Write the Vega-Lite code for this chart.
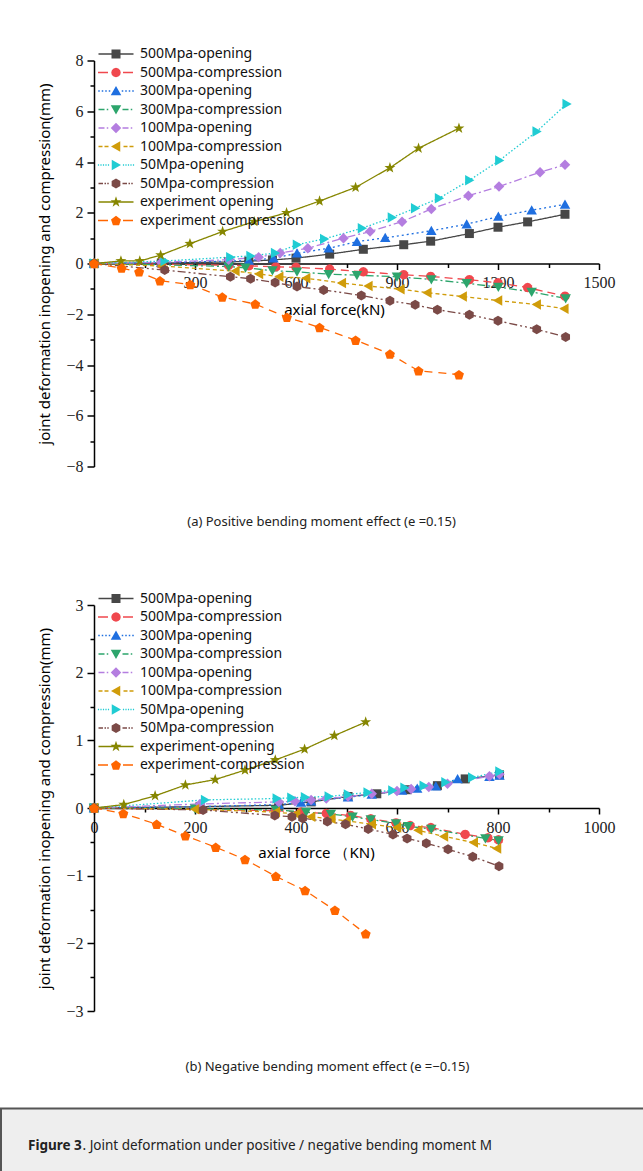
{
"$schema": "https://vega.github.io/schema/vega-lite/v6.json",
"padding": {"left": 0, "top": 46.5, "right": 0, "bottom": 0},
"background": "white",
"config": {"view": {"stroke": null}, "font": "Noto Sans"},
"datasets": {
"a": [
{"s":"500Mpa-opening","x":0,"y":0},{"s":"500Mpa-opening","x":200,"y":0.02},{"s":"500Mpa-opening","x":400,"y":0.06},{"s":"500Mpa-opening","x":460,"y":0.09},{"s":"500Mpa-opening","x":530,"y":0.14},{"s":"500Mpa-opening","x":600,"y":0.21},{"s":"500Mpa-opening","x":700,"y":0.37},{"s":"500Mpa-opening","x":800,"y":0.56},{"s":"500Mpa-opening","x":920,"y":0.74},{"s":"500Mpa-opening","x":1000,"y":0.88},{"s":"500Mpa-opening","x":1115,"y":1.18},{"s":"500Mpa-opening","x":1200,"y":1.43},{"s":"500Mpa-opening","x":1288,"y":1.64},{"s":"500Mpa-opening","x":1399,"y":1.94},
{"s":"500Mpa-compression","x":0,"y":0},{"s":"500Mpa-compression","x":200,"y":-0.03},{"s":"500Mpa-compression","x":400,"y":-0.07},{"s":"500Mpa-compression","x":460,"y":-0.09},{"s":"500Mpa-compression","x":540,"y":-0.13},{"s":"500Mpa-compression","x":600,"y":-0.15},{"s":"500Mpa-compression","x":700,"y":-0.22},{"s":"500Mpa-compression","x":800,"y":-0.33},{"s":"500Mpa-compression","x":920,"y":-0.44},{"s":"500Mpa-compression","x":1000,"y":-0.51},{"s":"500Mpa-compression","x":1115,"y":-0.64},{"s":"500Mpa-compression","x":1200,"y":-0.76},{"s":"500Mpa-compression","x":1288,"y":-0.95},{"s":"500Mpa-compression","x":1399,"y":-1.29},
{"s":"300Mpa-opening","x":0,"y":0},{"s":"300Mpa-opening","x":200,"y":0.03},{"s":"300Mpa-opening","x":400,"y":0.09},{"s":"300Mpa-opening","x":460,"y":0.12},{"s":"300Mpa-opening","x":533,"y":0.21},{"s":"300Mpa-opening","x":603,"y":0.40},{"s":"300Mpa-opening","x":697,"y":0.60},{"s":"300Mpa-opening","x":781,"y":0.86},{"s":"300Mpa-opening","x":865,"y":1.01},{"s":"300Mpa-opening","x":1002,"y":1.29},{"s":"300Mpa-opening","x":1107,"y":1.55},{"s":"300Mpa-opening","x":1201,"y":1.85},{"s":"300Mpa-opening","x":1300,"y":2.10},{"s":"300Mpa-opening","x":1399,"y":2.33},
{"s":"300Mpa-compression","x":0,"y":0},{"s":"300Mpa-compression","x":200,"y":-0.05},{"s":"300Mpa-compression","x":400,"y":-0.12},{"s":"300Mpa-compression","x":450,"y":-0.17},{"s":"300Mpa-compression","x":530,"y":-0.28},{"s":"300Mpa-compression","x":603,"y":-0.33},{"s":"300Mpa-compression","x":697,"y":-0.42},{"s":"300Mpa-compression","x":781,"y":-0.46},{"s":"300Mpa-compression","x":900,"y":-0.52},{"s":"300Mpa-compression","x":1002,"y":-0.63},{"s":"300Mpa-compression","x":1107,"y":-0.78},{"s":"300Mpa-compression","x":1201,"y":-0.93},{"s":"300Mpa-compression","x":1300,"y":-1.12},{"s":"300Mpa-compression","x":1401,"y":-1.38},
{"s":"100Mpa-opening","x":0,"y":0},{"s":"100Mpa-opening","x":200,"y":0.05},{"s":"100Mpa-opening","x":400,"y":0.15},{"s":"100Mpa-opening","x":489,"y":0.25},{"s":"100Mpa-opening","x":553,"y":0.41},{"s":"100Mpa-opening","x":635,"y":0.60},{"s":"100Mpa-opening","x":741,"y":1.00},{"s":"100Mpa-opening","x":820,"y":1.26},{"s":"100Mpa-opening","x":915,"y":1.65},{"s":"100Mpa-opening","x":1002,"y":2.15},{"s":"100Mpa-opening","x":1112,"y":2.67},{"s":"100Mpa-opening","x":1203,"y":3.03},{"s":"100Mpa-opening","x":1325,"y":3.60},{"s":"100Mpa-opening","x":1399,"y":3.89},
{"s":"100Mpa-compression","x":0,"y":0},{"s":"100Mpa-compression","x":200,"y":-0.10},{"s":"100Mpa-compression","x":420,"y":-0.30},{"s":"100Mpa-compression","x":490,"y":-0.41},{"s":"100Mpa-compression","x":550,"y":-0.52},{"s":"100Mpa-compression","x":630,"y":-0.58},{"s":"100Mpa-compression","x":736,"y":-0.77},{"s":"100Mpa-compression","x":815,"y":-0.89},{"s":"100Mpa-compression","x":910,"y":-1.01},{"s":"100Mpa-compression","x":990,"y":-1.15},{"s":"100Mpa-compression","x":1095,"y":-1.30},{"s":"100Mpa-compression","x":1200,"y":-1.46},{"s":"100Mpa-compression","x":1315,"y":-1.62},{"s":"100Mpa-compression","x":1397,"y":-1.78},
{"s":"50Mpa-opening","x":0,"y":0},{"s":"50Mpa-opening","x":210,"y":0.10},{"s":"50Mpa-opening","x":405,"y":0.25},{"s":"50Mpa-opening","x":465,"y":0.30},{"s":"50Mpa-opening","x":538,"y":0.41},{"s":"50Mpa-opening","x":603,"y":0.74},{"s":"50Mpa-opening","x":684,"y":0.97},{"s":"50Mpa-opening","x":796,"y":1.39},{"s":"50Mpa-opening","x":885,"y":1.81},{"s":"50Mpa-opening","x":954,"y":2.18},{"s":"50Mpa-opening","x":1025,"y":2.57},{"s":"50Mpa-opening","x":1115,"y":3.28},{"s":"50Mpa-opening","x":1204,"y":4.06},{"s":"50Mpa-opening","x":1315,"y":5.20},{"s":"50Mpa-opening","x":1404,"y":6.29},
{"s":"50Mpa-compression","x":0,"y":0},{"s":"50Mpa-compression","x":210,"y":-0.26},{"s":"50Mpa-compression","x":405,"y":-0.52},{"s":"50Mpa-compression","x":465,"y":-0.60},{"s":"50Mpa-compression","x":538,"y":-0.75},{"s":"50Mpa-compression","x":603,"y":-0.91},{"s":"50Mpa-compression","x":682,"y":-1.04},{"s":"50Mpa-compression","x":794,"y":-1.26},{"s":"50Mpa-compression","x":879,"y":-1.47},{"s":"50Mpa-compression","x":954,"y":-1.63},{"s":"50Mpa-compression","x":1020,"y":-1.82},{"s":"50Mpa-compression","x":1115,"y":-2.02},{"s":"50Mpa-compression","x":1200,"y":-2.26},{"s":"50Mpa-compression","x":1315,"y":-2.59},{"s":"50Mpa-compression","x":1401,"y":-2.90},
{"s":"experiment opening","x":0,"y":0},{"s":"experiment opening","x":80,"y":0.10},{"s":"experiment opening","x":136,"y":0.10},{"s":"experiment opening","x":198,"y":0.33},{"s":"experiment opening","x":285,"y":0.78},{"s":"experiment opening","x":382,"y":1.26},{"s":"experiment opening","x":476,"y":1.65},{"s":"experiment opening","x":572,"y":2.00},{"s":"experiment opening","x":670,"y":2.46},{"s":"experiment opening","x":777,"y":3.00},{"s":"experiment opening","x":879,"y":3.77},{"s":"experiment opening","x":964,"y":4.54},{"s":"experiment opening","x":1084,"y":5.33},
{"s":"experiment compression","x":0,"y":0},{"s":"experiment compression","x":82,"y":-0.18},{"s":"experiment compression","x":134,"y":-0.33},{"s":"experiment compression","x":196,"y":-0.68},{"s":"experiment compression","x":286,"y":-0.83},{"s":"experiment compression","x":381,"y":-1.32},{"s":"experiment compression","x":479,"y":-1.60},{"s":"experiment compression","x":573,"y":-2.12},{"s":"experiment compression","x":670,"y":-2.52},{"s":"experiment compression","x":777,"y":-3.02},{"s":"experiment compression","x":879,"y":-3.57},{"s":"experiment compression","x":964,"y":-4.23},{"s":"experiment compression","x":1084,"y":-4.38}
],
"b": [
{"s":"500Mpa-opening","x":0,"y":0},{"s":"500Mpa-opening","x":210,"y":0.02},{"s":"500Mpa-opening","x":366,"y":0.04},{"s":"500Mpa-opening","x":430,"y":0.09},{"s":"500Mpa-opening","x":503,"y":0.17},{"s":"500Mpa-opening","x":560,"y":0.21},{"s":"500Mpa-opening","x":620,"y":0.27},{"s":"500Mpa-opening","x":680,"y":0.33},{"s":"500Mpa-opening","x":735,"y":0.43},{"s":"500Mpa-opening","x":803,"y":0.49},
{"s":"500Mpa-compression","x":0,"y":0},{"s":"500Mpa-compression","x":210,"y":-0.02},{"s":"500Mpa-compression","x":360,"y":-0.04},{"s":"500Mpa-compression","x":410,"y":-0.06},{"s":"500Mpa-compression","x":460,"y":-0.08},{"s":"500Mpa-compression","x":508,"y":-0.11},{"s":"500Mpa-compression","x":548,"y":-0.16},{"s":"500Mpa-compression","x":598,"y":-0.22},{"s":"500Mpa-compression","x":626,"y":-0.26},{"s":"500Mpa-compression","x":667,"y":-0.29},{"s":"500Mpa-compression","x":735,"y":-0.39},{"s":"500Mpa-compression","x":780,"y":-0.44},{"s":"500Mpa-compression","x":801,"y":-0.47},
{"s":"300Mpa-opening","x":0,"y":0},{"s":"300Mpa-opening","x":210,"y":0.02},{"s":"300Mpa-opening","x":366,"y":0.05},{"s":"300Mpa-opening","x":410,"y":0.08},{"s":"300Mpa-opening","x":430,"y":0.10},{"s":"300Mpa-opening","x":503,"y":0.16},{"s":"300Mpa-opening","x":550,"y":0.20},{"s":"300Mpa-opening","x":610,"y":0.26},{"s":"300Mpa-opening","x":640,"y":0.29},{"s":"300Mpa-opening","x":677,"y":0.32},{"s":"300Mpa-opening","x":720,"y":0.43},{"s":"300Mpa-opening","x":783,"y":0.46},{"s":"300Mpa-opening","x":803,"y":0.48},
{"s":"300Mpa-compression","x":0,"y":0},{"s":"300Mpa-compression","x":200,"y":-0.01},{"s":"300Mpa-compression","x":360,"y":-0.03},{"s":"300Mpa-compression","x":420,"y":-0.06},{"s":"300Mpa-compression","x":469,"y":-0.09},{"s":"300Mpa-compression","x":512,"y":-0.13},{"s":"300Mpa-compression","x":548,"y":-0.17},{"s":"300Mpa-compression","x":598,"y":-0.23},{"s":"300Mpa-compression","x":622,"y":-0.27},{"s":"300Mpa-compression","x":668,"y":-0.31},{"s":"300Mpa-compression","x":775,"y":-0.45},{"s":"300Mpa-compression","x":801,"y":-0.48},
{"s":"100Mpa-opening","x":0,"y":0},{"s":"100Mpa-opening","x":210,"y":0.06},{"s":"100Mpa-opening","x":366,"y":0.09},{"s":"100Mpa-opening","x":398,"y":0.10},{"s":"100Mpa-opening","x":430,"y":0.12},{"s":"100Mpa-opening","x":460,"y":0.14},{"s":"100Mpa-opening","x":503,"y":0.17},{"s":"100Mpa-opening","x":550,"y":0.21},{"s":"100Mpa-opening","x":600,"y":0.25},{"s":"100Mpa-opening","x":628,"y":0.28},{"s":"100Mpa-opening","x":663,"y":0.31},{"s":"100Mpa-opening","x":700,"y":0.36},{"s":"100Mpa-opening","x":783,"y":0.47},{"s":"100Mpa-opening","x":803,"y":0.50},
{"s":"100Mpa-compression","x":0,"y":0},{"s":"100Mpa-compression","x":200,"y":-0.02},{"s":"100Mpa-compression","x":360,"y":-0.06},{"s":"100Mpa-compression","x":400,"y":-0.09},{"s":"100Mpa-compression","x":430,"y":-0.13},{"s":"100Mpa-compression","x":470,"y":-0.16},{"s":"100Mpa-compression","x":500,"y":-0.19},{"s":"100Mpa-compression","x":550,"y":-0.24},{"s":"100Mpa-compression","x":600,"y":-0.29},{"s":"100Mpa-compression","x":642,"y":-0.33},{"s":"100Mpa-compression","x":693,"y":-0.42},{"s":"100Mpa-compression","x":752,"y":-0.51},{"s":"100Mpa-compression","x":798,"y":-0.60},
{"s":"50Mpa-opening","x":0,"y":0},{"s":"50Mpa-opening","x":220,"y":0.12},{"s":"50Mpa-opening","x":362,"y":0.14},{"s":"50Mpa-opening","x":391,"y":0.15},{"s":"50Mpa-opening","x":418,"y":0.16},{"s":"50Mpa-opening","x":465,"y":0.17},{"s":"50Mpa-opening","x":503,"y":0.20},{"s":"50Mpa-opening","x":542,"y":0.23},{"s":"50Mpa-opening","x":591,"y":0.26},{"s":"50Mpa-opening","x":615,"y":0.30},{"s":"50Mpa-opening","x":653,"y":0.33},{"s":"50Mpa-opening","x":696,"y":0.38},{"s":"50Mpa-opening","x":749,"y":0.45},{"s":"50Mpa-opening","x":803,"y":0.54},
{"s":"50Mpa-compression","x":0,"y":0},{"s":"50Mpa-compression","x":216,"y":-0.03},{"s":"50Mpa-compression","x":358,"y":-0.11},{"s":"50Mpa-compression","x":392,"y":-0.13},{"s":"50Mpa-compression","x":413,"y":-0.15},{"s":"50Mpa-compression","x":462,"y":-0.20},{"s":"50Mpa-compression","x":498,"y":-0.24},{"s":"50Mpa-compression","x":543,"y":-0.31},{"s":"50Mpa-compression","x":592,"y":-0.39},{"s":"50Mpa-compression","x":620,"y":-0.45},{"s":"50Mpa-compression","x":658,"y":-0.52},{"s":"50Mpa-compression","x":701,"y":-0.61},{"s":"50Mpa-compression","x":750,"y":-0.72},{"s":"50Mpa-compression","x":802,"y":-0.86},
{"s":"experiment-opening","x":0,"y":0},{"s":"experiment-opening","x":59,"y":0.05},{"s":"experiment-opening","x":121,"y":0.18},{"s":"experiment-opening","x":181,"y":0.34},{"s":"experiment-opening","x":240,"y":0.42},{"s":"experiment-opening","x":299,"y":0.56},{"s":"experiment-opening","x":359,"y":0.71},{"s":"experiment-opening","x":417,"y":0.87},{"s":"experiment-opening","x":476,"y":1.07},{"s":"experiment-opening","x":538,"y":1.27},
{"s":"experiment-compression","x":0,"y":0},{"s":"experiment-compression","x":58,"y":-0.08},{"s":"experiment-compression","x":124,"y":-0.24},{"s":"experiment-compression","x":181,"y":-0.41},{"s":"experiment-compression","x":241,"y":-0.58},{"s":"experiment-compression","x":299,"y":-0.76},{"s":"experiment-compression","x":360,"y":-1.01},{"s":"experiment-compression","x":418,"y":-1.22},{"s":"experiment-compression","x":477,"y":-1.51},{"s":"experiment-compression","x":538,"y":-1.86}
]
},
"center": true,
"spacing": 33,
"vconcat": [
{
"spacing": 62.5,
"vconcat": [
{
"width": 505, "height": 406,
"data": {"name": "a"},
"title": {"text": "(a) Positive bending moment effect (e =0.15)", "orient": "bottom", "anchor": "middle", "offset": 41, "dx": -25, "font": "Noto Sans", "fontSize": 13, "fontWeight": "normal", "color": "#222222"},
"layer": [
{"mark": {"type": "line", "strokeWidth": 1.3},
 "encoding": {
  "x": {"field": "x", "type": "quantitative", "scale": {"domain": [0, 1500], "nice": false, "zero": false},
        "axis": {"orient": "bottom", "offset": -203, "values": [300, 600, 900, 1200, 1500], "format": "d", "grid": false, "domainColor": "#000000", "domainWidth": 1.5, "tickColor": "#000000", "tickWidth": 1.5, "tickSize": 6, "labelFont": "Liberation Serif", "labelFontSize": 16, "labelColor": "#222222", "labelPadding": 5, "labelFlush": false, "labelOverlap": false, "title": "axial force(kN)", "titleFont": "Noto Sans", "titleFontSize": 15, "titleFontWeight": "normal", "titleColor": "#000000", "titlePadding": 12, "titleX": 240}},
  "y": {"field": "y", "type": "quantitative", "scale": {"domain": [-8, 8], "nice": false},
        "axis": {"orient": "left", "values": [-8, -6, -4, -2, 0, 2, 4, 6, 8], "format": "d", "grid": false, "domainColor": "#000000", "domainWidth": 1.5, "tickColor": "#000000", "tickWidth": 1.5, "tickSize": 7, "labelFont": "Liberation Serif", "labelFontSize": 16, "labelColor": "#222222", "labelPadding": 4, "title": "joint deformation inopening and compression(mm)", "titleFont": "Noto Sans", "titleFontSize": 15, "titleFontWeight": "normal", "titleColor": "#000000", "titlePadding": 13}},
  "color": {"field": "s", "type": "nominal", "legend": null, "scale": {"domain": ["500Mpa-opening","500Mpa-compression","300Mpa-opening","300Mpa-compression","100Mpa-opening","100Mpa-compression","50Mpa-opening","50Mpa-compression","experiment opening","experiment compression"], "range": ["#474747","#f0484e","#1f6fe0","#2da56c","#b47ee0","#d09c0a","#20ccd3","#7b4a47","#868600","#ff6600"]}},
  "strokeDash": {"field": "s", "type": "nominal", "legend": null, "scale": {"domain": ["500Mpa-opening","500Mpa-compression","300Mpa-opening","300Mpa-compression","100Mpa-opening","100Mpa-compression","50Mpa-opening","50Mpa-compression","experiment opening","experiment compression"], "range": [[1,0],[8,5],[2,3],[8,3,2,3],[8,3,2,3],[4,3],[1.5,2],[8,3,2,3,2,3],[1,0],[8,6]]}}
 }},
{"mark": {"type": "point", "filled": true, "size": 100, "opacity": 1},
 "encoding": {
  "x": {"field": "x", "type": "quantitative", "axis": {"orient": "bottom", "offset": -203, "values": [150, 450, 750, 1050, 1350], "grid": false, "domain": false, "labels": false, "tickColor": "#000000", "tickWidth": 1.5, "tickSize": 4, "title": null}},
  "y": {"field": "y", "type": "quantitative", "axis": {"orient": "left", "values": [-7, -5, -3, -1, 1, 3, 5, 7], "grid": false, "domain": false, "labels": false, "tickColor": "#000000", "tickWidth": 1.5, "tickSize": 4, "title": null}},
  "color": {"field": "s", "type": "nominal", "legend": null, "scale": {"domain": ["500Mpa-opening","500Mpa-compression","300Mpa-opening","300Mpa-compression","100Mpa-opening","100Mpa-compression","50Mpa-opening","50Mpa-compression","experiment opening","experiment compression"], "range": ["#474747","#f0484e","#1f6fe0","#2da56c","#b47ee0","#d09c0a","#20ccd3","#7b4a47","#868600","#ff6600"]}},
  "shape": {"field": "s", "type": "nominal", "legend": null, "scale": {"domain": ["500Mpa-opening","500Mpa-compression","300Mpa-opening","300Mpa-compression","100Mpa-opening","100Mpa-compression","50Mpa-opening","50Mpa-compression","experiment opening","experiment compression"], "range": [
   "M-0.9,-0.9H0.9V0.9H-0.9Z",
   "M0.95,0L0.823,0.475L0.475,0.823L0,0.95L-0.475,0.823L-0.823,0.475L-0.95,0L-0.823,-0.475L-0.475,-0.823L0,-0.95L0.475,-0.823L0.823,-0.475Z",
   "M0,-1L1.05,0.85L-1.05,0.85Z",
   "M0,1L1.05,-0.85L-1.05,-0.85Z",
   "M0,-1.05L1.05,0L0,1.05L-1.05,0Z",
   "M-1,0L0.85,-1.05L0.85,1.05Z",
   "M1,0L-0.85,-1.05L-0.85,1.05Z",
   "M0,-1L0.87,-0.5L0.87,0.5L0,1L-0.87,0.5L-0.87,-0.5Z",
   "M0,-1.15L0.27,-0.372L1.094,-0.355L0.437,0.142L0.676,0.93L0,0.46L-0.676,0.93L-0.437,0.142L-1.094,-0.355L-0.27,-0.372Z",
   "M0,-0.95L1,-0.22L0.617,0.95L-0.617,0.95L-1,-0.22Z"]}}
 }},
{"transform": [{"filter": "false"}],
 "mark": {"type": "point", "filled": true, "opacity": 1},
 "encoding": {
  "x": {"field": "x", "type": "quantitative", "axis": null},
  "y": {"field": "y", "type": "quantitative", "axis": null},
  "color": {"field": "s", "type": "nominal", "scale": {"domain": ["500Mpa-opening","500Mpa-compression","300Mpa-opening","300Mpa-compression","100Mpa-opening","100Mpa-compression","50Mpa-opening","50Mpa-compression","experiment opening","experiment compression"], "range": ["#474747","#f0484e","#1f6fe0","#2da56c","#b47ee0","#d09c0a","#20ccd3","#7b4a47","#868600","#ff6600"]},
   "legend": {"orient": "none", "legendX": 15, "legendY": -13.5, "title": null, "padding": 0, "symbolSize": 100, "symbolStrokeWidth": 0, "labelOffset": 17, "labelFont": "Noto Sans", "labelFontSize": 14, "labelColor": "#111111", "labelLimit": 400, "rowPadding": 4.5}},
  "shape": {"field": "s", "type": "nominal", "scale": {"domain": ["500Mpa-opening","500Mpa-compression","300Mpa-opening","300Mpa-compression","100Mpa-opening","100Mpa-compression","50Mpa-opening","50Mpa-compression","experiment opening","experiment compression"], "range": [
   "M-3.5,-0.13H3.5V0.13H-3.5Z M-0.9,-0.9H0.9V0.9H-0.9Z",
   "M-3.6,-0.13H-1.6V0.13H-3.6Z M1.4,-0.13H3.4V0.13H1.4Z M0.95,0L0.823,0.475L0.475,0.823L0,0.95L-0.475,0.823L-0.823,0.475L-0.95,0L-0.823,-0.475L-0.475,-0.823L0,-0.95L0.475,-0.823L0.823,-0.475Z",
   "M-3.55,-0.15H-3.25V0.15H-3.55Z M-2.85,-0.15H-2.55V0.15H-2.85Z M-2.15,-0.15H-1.85V0.15H-2.15Z M-1.45,-0.15H-1.15V0.15H-1.45Z M1.15,-0.15H1.45V0.15H1.15Z M1.85,-0.15H2.15V0.15H1.85Z M2.55,-0.15H2.85V0.15H2.55Z M3.25,-0.15H3.55V0.15H3.25Z M0,-1L1.05,0.85L-1.05,0.85Z",
   "M-3.5,-0.13H-2.3V0.13H-3.5Z M-1.85,-0.15H-1.55V0.15H-1.85Z M1.3,-0.13H2.5V0.13H1.3Z M2.95,-0.15H3.25V0.15H2.95Z M0,1L1.05,-0.85L-1.05,-0.85Z",
   "M-3.5,-0.13H-2.3V0.13H-3.5Z M-1.85,-0.15H-1.55V0.15H-1.85Z M1.3,-0.13H2.5V0.13H1.3Z M2.95,-0.15H3.25V0.15H2.95Z M0,-1.05L1.05,0L0,1.05L-1.05,0Z",
   "M-3.5,-0.13H-2.7V0.13H-3.5Z M-2.3,-0.13H-1.5V0.13H-2.3Z M1.5,-0.13H2.3V0.13H1.5Z M2.7,-0.13H3.5V0.13H2.7Z M-1,0L0.85,-1.05L0.85,1.05Z",
   "M-3.62,-0.13H-3.38V0.13H-3.62Z M-3.12,-0.13H-2.88V0.13H-3.12Z M-2.62,-0.13H-2.38V0.13H-2.62Z M-2.12,-0.13H-1.88V0.13H-2.12Z M-1.62,-0.13H-1.38V0.13H-1.62Z M1.38,-0.13H1.62V0.13H1.38Z M1.88,-0.13H2.12V0.13H1.88Z M2.38,-0.13H2.62V0.13H2.38Z M2.88,-0.13H3.12V0.13H2.88Z M3.38,-0.13H3.62V0.13H3.38Z M1,0L-0.85,-1.05L-0.85,1.05Z",
   "M-3.5,-0.13H-2.6V0.13H-3.5Z M-2.3,-0.15H-2.0V0.15H-2.3Z M-1.75,-0.15H-1.45V0.15H-1.75Z M1.3,-0.13H2.2V0.13H1.3Z M2.5,-0.15H2.8V0.15H2.5Z M3.05,-0.15H3.35V0.15H3.05Z M0,-1L0.87,-0.5L0.87,0.5L0,1L-0.87,0.5L-0.87,-0.5Z",
   "M-3.5,-0.13H3.5V0.13H-3.5Z M0,-1.15L0.27,-0.372L1.094,-0.355L0.437,0.142L0.676,0.93L0,0.46L-0.676,0.93L-0.437,0.142L-1.094,-0.355L-0.27,-0.372Z",
   "M-3.6,-0.13H-1.6V0.13H-3.6Z M1.4,-0.13H3.4V0.13H1.4Z M0,-0.95L1,-0.22L0.617,0.95L-0.617,0.95L-1,-0.22Z"]},
   "legend": {"orient": "none", "legendX": 15, "legendY": -13.5, "title": null, "padding": 0, "symbolSize": 100, "symbolStrokeWidth": 0, "labelOffset": 17, "labelFont": "Noto Sans", "labelFontSize": 14, "labelColor": "#111111", "labelLimit": 400, "rowPadding": 4.5}}
 }}
],
"resolve": {"scale": {"color": "independent", "shape": "independent"}, "axis": {"x": "independent", "y": "independent"}}
},
{
"width": 505, "height": 406,
"data": {"name": "b"},
"title": {"text": "(b) Negative bending moment effect (e =−0.15)", "orient": "bottom", "anchor": "middle", "offset": 42, "dx": -19, "font": "Noto Sans", "fontSize": 13, "fontWeight": "normal", "color": "#222222"},
"layer": [
{"mark": {"type": "line", "strokeWidth": 1.3},
 "encoding": {
  "x": {"field": "x", "type": "quantitative", "scale": {"domain": [0, 1000], "nice": false, "zero": false},
        "axis": {"orient": "bottom", "offset": -203, "values": [0, 200, 400, 600, 800, 1000], "format": "d", "grid": false, "domainColor": "#000000", "domainWidth": 1.5, "tickColor": "#000000", "tickWidth": 1.5, "tickSize": 6, "labelFont": "Liberation Serif", "labelFontSize": 16, "labelColor": "#222222", "labelPadding": 5, "labelFlush": false, "labelOverlap": false, "title": "axial force （KN)", "titleFont": "Noto Sans", "titleFontSize": 15, "titleFontWeight": "normal", "titleColor": "#000000", "titlePadding": 10, "titleX": 222}},
  "y": {"field": "y", "type": "quantitative", "scale": {"domain": [-3, 3], "nice": false},
        "axis": {"orient": "left", "values": [-3, -2, -1, 0, 1, 2, 3], "format": "d", "grid": false, "domainColor": "#000000", "domainWidth": 1.5, "tickColor": "#000000", "tickWidth": 1.5, "tickSize": 7, "labelFont": "Liberation Serif", "labelFontSize": 16, "labelColor": "#222222", "labelPadding": 4, "title": "joint deformation inopening and compression(mm)", "titleFont": "Noto Sans", "titleFontSize": 15, "titleFontWeight": "normal", "titleColor": "#000000", "titlePadding": 13}},
  "color": {"field": "s", "type": "nominal", "legend": null, "scale": {"domain": ["500Mpa-opening","500Mpa-compression","300Mpa-opening","300Mpa-compression","100Mpa-opening","100Mpa-compression","50Mpa-opening","50Mpa-compression","experiment-opening","experiment-compression"], "range": ["#474747","#f0484e","#1f6fe0","#2da56c","#b47ee0","#d09c0a","#20ccd3","#7b4a47","#868600","#ff6600"]}},
  "strokeDash": {"field": "s", "type": "nominal", "legend": null, "scale": {"domain": ["500Mpa-opening","500Mpa-compression","300Mpa-opening","300Mpa-compression","100Mpa-opening","100Mpa-compression","50Mpa-opening","50Mpa-compression","experiment-opening","experiment-compression"], "range": [[1,0],[8,5],[2,3],[8,3,2,3],[8,3,2,3],[4,3],[1.5,2],[8,3,2,3,2,3],[1,0],[8,6]]}}
 }},
{"mark": {"type": "point", "filled": true, "size": 100, "opacity": 1},
 "encoding": {
  "x": {"field": "x", "type": "quantitative", "axis": {"orient": "bottom", "offset": -203, "values": [100, 300, 500, 700, 900], "grid": false, "domain": false, "labels": false, "tickColor": "#000000", "tickWidth": 1.5, "tickSize": 4, "title": null}},
  "y": {"field": "y", "type": "quantitative", "axis": {"orient": "left", "values": [-2.5, -1.5, -0.5, 0.5, 1.5, 2.5], "grid": false, "domain": false, "labels": false, "tickColor": "#000000", "tickWidth": 1.5, "tickSize": 4, "title": null}},
  "color": {"field": "s", "type": "nominal", "legend": null, "scale": {"domain": ["500Mpa-opening","500Mpa-compression","300Mpa-opening","300Mpa-compression","100Mpa-opening","100Mpa-compression","50Mpa-opening","50Mpa-compression","experiment-opening","experiment-compression"], "range": ["#474747","#f0484e","#1f6fe0","#2da56c","#b47ee0","#d09c0a","#20ccd3","#7b4a47","#868600","#ff6600"]}},
  "shape": {"field": "s", "type": "nominal", "legend": null, "scale": {"domain": ["500Mpa-opening","500Mpa-compression","300Mpa-opening","300Mpa-compression","100Mpa-opening","100Mpa-compression","50Mpa-opening","50Mpa-compression","experiment-opening","experiment-compression"], "range": [
   "M-0.9,-0.9H0.9V0.9H-0.9Z",
   "M0.95,0L0.823,0.475L0.475,0.823L0,0.95L-0.475,0.823L-0.823,0.475L-0.95,0L-0.823,-0.475L-0.475,-0.823L0,-0.95L0.475,-0.823L0.823,-0.475Z",
   "M0,-1L1.05,0.85L-1.05,0.85Z",
   "M0,1L1.05,-0.85L-1.05,-0.85Z",
   "M0,-1.05L1.05,0L0,1.05L-1.05,0Z",
   "M-1,0L0.85,-1.05L0.85,1.05Z",
   "M1,0L-0.85,-1.05L-0.85,1.05Z",
   "M0,-1L0.87,-0.5L0.87,0.5L0,1L-0.87,0.5L-0.87,-0.5Z",
   "M0,-1.15L0.27,-0.372L1.094,-0.355L0.437,0.142L0.676,0.93L0,0.46L-0.676,0.93L-0.437,0.142L-1.094,-0.355L-0.27,-0.372Z",
   "M0,-0.95L1,-0.22L0.617,0.95L-0.617,0.95L-1,-0.22Z"]}}
 }},
{"transform": [{"filter": "false"}],
 "mark": {"type": "point", "filled": true, "opacity": 1},
 "encoding": {
  "x": {"field": "x", "type": "quantitative", "axis": null},
  "y": {"field": "y", "type": "quantitative", "axis": null},
  "color": {"field": "s", "type": "nominal", "scale": {"domain": ["500Mpa-opening","500Mpa-compression","300Mpa-opening","300Mpa-compression","100Mpa-opening","100Mpa-compression","50Mpa-opening","50Mpa-compression","experiment-opening","experiment-compression"], "range": ["#474747","#f0484e","#1f6fe0","#2da56c","#b47ee0","#d09c0a","#20ccd3","#7b4a47","#868600","#ff6600"]},
   "legend": {"orient": "none", "legendX": 15, "legendY": -13.5, "title": null, "padding": 0, "symbolSize": 100, "symbolStrokeWidth": 0, "labelOffset": 17, "labelFont": "Noto Sans", "labelFontSize": 14, "labelColor": "#111111", "labelLimit": 400, "rowPadding": 4.5}},
  "shape": {"field": "s", "type": "nominal", "scale": {"domain": ["500Mpa-opening","500Mpa-compression","300Mpa-opening","300Mpa-compression","100Mpa-opening","100Mpa-compression","50Mpa-opening","50Mpa-compression","experiment-opening","experiment-compression"], "range": [
   "M-3.5,-0.13H3.5V0.13H-3.5Z M-0.9,-0.9H0.9V0.9H-0.9Z",
   "M-3.6,-0.13H-1.6V0.13H-3.6Z M1.4,-0.13H3.4V0.13H1.4Z M0.95,0L0.823,0.475L0.475,0.823L0,0.95L-0.475,0.823L-0.823,0.475L-0.95,0L-0.823,-0.475L-0.475,-0.823L0,-0.95L0.475,-0.823L0.823,-0.475Z",
   "M-3.55,-0.15H-3.25V0.15H-3.55Z M-2.85,-0.15H-2.55V0.15H-2.85Z M-2.15,-0.15H-1.85V0.15H-2.15Z M-1.45,-0.15H-1.15V0.15H-1.45Z M1.15,-0.15H1.45V0.15H1.15Z M1.85,-0.15H2.15V0.15H1.85Z M2.55,-0.15H2.85V0.15H2.55Z M3.25,-0.15H3.55V0.15H3.25Z M0,-1L1.05,0.85L-1.05,0.85Z",
   "M-3.5,-0.13H-2.3V0.13H-3.5Z M-1.85,-0.15H-1.55V0.15H-1.85Z M1.3,-0.13H2.5V0.13H1.3Z M2.95,-0.15H3.25V0.15H2.95Z M0,1L1.05,-0.85L-1.05,-0.85Z",
   "M-3.5,-0.13H-2.3V0.13H-3.5Z M-1.85,-0.15H-1.55V0.15H-1.85Z M1.3,-0.13H2.5V0.13H1.3Z M2.95,-0.15H3.25V0.15H2.95Z M0,-1.05L1.05,0L0,1.05L-1.05,0Z",
   "M-3.5,-0.13H-2.7V0.13H-3.5Z M-2.3,-0.13H-1.5V0.13H-2.3Z M1.5,-0.13H2.3V0.13H1.5Z M2.7,-0.13H3.5V0.13H2.7Z M-1,0L0.85,-1.05L0.85,1.05Z",
   "M-3.62,-0.13H-3.38V0.13H-3.62Z M-3.12,-0.13H-2.88V0.13H-3.12Z M-2.62,-0.13H-2.38V0.13H-2.62Z M-2.12,-0.13H-1.88V0.13H-2.12Z M-1.62,-0.13H-1.38V0.13H-1.62Z M1.38,-0.13H1.62V0.13H1.38Z M1.88,-0.13H2.12V0.13H1.88Z M2.38,-0.13H2.62V0.13H2.38Z M2.88,-0.13H3.12V0.13H2.88Z M3.38,-0.13H3.62V0.13H3.38Z M1,0L-0.85,-1.05L-0.85,1.05Z",
   "M-3.5,-0.13H-2.6V0.13H-3.5Z M-2.3,-0.15H-2.0V0.15H-2.3Z M-1.75,-0.15H-1.45V0.15H-1.75Z M1.3,-0.13H2.2V0.13H1.3Z M2.5,-0.15H2.8V0.15H2.5Z M3.05,-0.15H3.35V0.15H3.05Z M0,-1L0.87,-0.5L0.87,0.5L0,1L-0.87,0.5L-0.87,-0.5Z",
   "M-3.5,-0.13H3.5V0.13H-3.5Z M0,-1.15L0.27,-0.372L1.094,-0.355L0.437,0.142L0.676,0.93L0,0.46L-0.676,0.93L-0.437,0.142L-1.094,-0.355L-0.27,-0.372Z",
   "M-3.6,-0.13H-1.6V0.13H-3.6Z M1.4,-0.13H3.4V0.13H1.4Z M0,-0.95L1,-0.22L0.617,0.95L-0.617,0.95L-1,-0.22Z"]},
   "legend": {"orient": "none", "legendX": 15, "legendY": -13.5, "title": null, "padding": 0, "symbolSize": 100, "symbolStrokeWidth": 0, "labelOffset": 17, "labelFont": "Noto Sans", "labelFontSize": 14, "labelColor": "#111111", "labelLimit": 400, "rowPadding": 4.5}}
 }}
],
"resolve": {"scale": {"color": "independent", "shape": "independent"}, "axis": {"x": "independent", "y": "independent"}}
}
]
},
{
"width": 706, "height": 70,
"data": {"values": []},
"mark": {"type": "point"},
"encoding": {"x": {"field": "c", "type": "quantitative", "scale": {"domain": [0, 1]}, "axis": {"orient": "top", "domain": false, "ticks": false, "labels": false, "grid": false, "title": ". Joint deformation under positive / negative bending moment M", "titleFont": "Noto Sans", "titleFontSize": 13.5, "titleFontWeight": "normal", "titleColor": "#222222", "titleAnchor": "start", "titleAlign": "left", "titleBaseline": "middle", "titleX": 81, "titleY": 37}}},
"title": {"text": "Figure 3", "anchor": "start", "orient": "top", "frame": "group", "dx": 27, "offset": -51, "baseline": "middle", "font": "Noto Sans", "fontSize": 13.5, "fontWeight": "bold", "color": "#222222"},
"view": {"fill": "#eeeeee", "stroke": "#555555", "strokeWidth": 2}
}
]
}
